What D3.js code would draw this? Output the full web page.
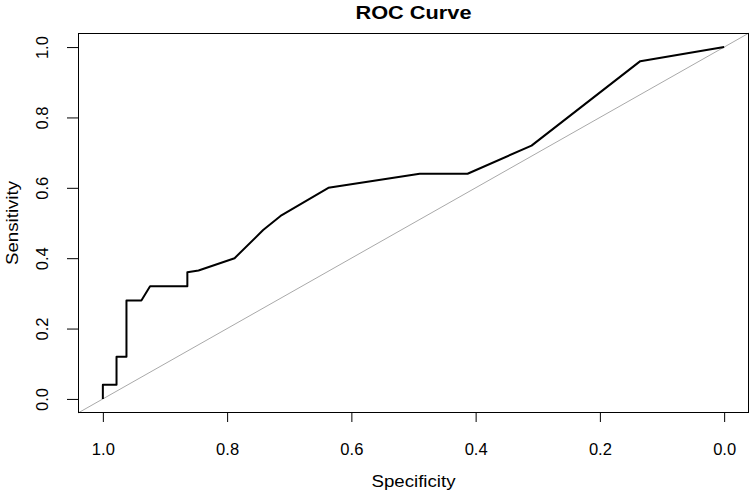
<!DOCTYPE html>
<html><head><meta charset="utf-8">
<script src="https://cdn.jsdelivr.net/npm/d3@7"></script>
<style>body{margin:0;background:#fff}svg{display:block}text{font-family:"Liberation Sans",Arial,sans-serif}</style>
</head><body>
<script>
const specificity = [1.0, 1.0, 0.978, 0.978, 0.962, 0.962, 0.938, 0.924, 0.864, 0.864, 0.846, 0.788, 0.742, 0.714, 0.637, 0.490, 0.413, 0.310, 0.135, 0.0];
const sensitivity = [0.0, 0.04, 0.04, 0.12, 0.12, 0.28, 0.28, 0.32, 0.32, 0.36, 0.365, 0.40, 0.48, 0.52, 0.60, 0.64, 0.64, 0.72, 0.96, 1.0];
const tickValues = [1.0, 0.8, 0.6, 0.4, 0.2, 0.0];
const tickLabels = ["1.0", "0.8", "0.6", "0.4", "0.2", "0.0"];

const W = 752, H = 493;
const box = {left: 78, right: 749, top: 33, bottom: 413};
const x = d3.scaleLinear().domain([1.04, -0.04]).range([box.left, box.right]);
const y = d3.scaleLinear().domain([-0.04, 1.04]).range([box.bottom, box.top]);

const svg = d3.select("body").append("svg").attr("width", W).attr("height", H);

// diagonal reference
svg.append("line")
  .attr("x1", x(1.04)).attr("y1", y(-0.04))
  .attr("x2", x(-0.04)).attr("y2", y(1.04))
  .attr("stroke", "#a9a9a9").attr("stroke-width", 1);

const pts = specificity.map((s, i) => [s, sensitivity[i]]);
svg.append("path").datum(pts)
  .attr("d", d3.line().x(d => x(d[0])).y(d => y(d[1])))
  .attr("fill", "none").attr("stroke", "#000").attr("stroke-width", 2)
  .attr("stroke-linejoin", "round");

// box
svg.append("rect").attr("x", box.left + 0.5).attr("y", box.top + 0.5)
  .attr("width", box.right - box.left - 1).attr("height", box.bottom - box.top - 1)
  .attr("fill", "none").attr("stroke", "#000").attr("stroke-width", 1);

// x axis
const xAxis = d3.axisBottom(x).tickValues(tickValues).tickFormat((d, i) => tickLabels[i]).tickSize(10).tickPadding(22);
const gx = svg.append("g").attr("transform", `translate(0,${box.bottom - 1})`).call(xAxis);
gx.select(".domain").remove();
gx.selectAll("text").attr("font-size", 16).attr("font-family", "Liberation Sans, Arial, sans-serif").attr("fill", "#000")
  .attr("textLength", 23).attr("lengthAdjust", "spacingAndGlyphs");
gx.selectAll("line").attr("stroke", "#000");

// y axis
const yAxis = d3.axisLeft(y).tickValues(tickValues).tickFormat((d, i) => tickLabels[i]).tickSize(11).tickPadding(0);
const gy = svg.append("g").attr("transform", `translate(${box.left},0)`).call(yAxis);
gy.select(".domain").remove();
gy.selectAll("line").attr("stroke", "#000");
gy.selectAll("text").attr("font-size", 16).attr("font-family", "Liberation Sans, Arial, sans-serif").attr("fill", "#000")
  .attr("x", null)
  .attr("text-anchor", "middle")
  .attr("transform", "translate(-36,0) rotate(-90)")
  .attr("dy", "0.35em")
  .attr("textLength", 23).attr("lengthAdjust", "spacingAndGlyphs");

svg.append("text").attr("x", (box.left + box.right) / 2).attr("y", 19)
  .attr("text-anchor", "middle").attr("font-weight", "bold").attr("font-size", 18)
  .attr("textLength", 116).attr("lengthAdjust", "spacingAndGlyphs").text("ROC Curve");
svg.append("text").attr("x", (box.left + box.right) / 2).attr("y", 487)
  .attr("text-anchor", "middle").attr("font-size", 16)
  .attr("textLength", 84).attr("lengthAdjust", "spacingAndGlyphs").text("Specificity");
svg.append("text").attr("transform", `translate(18,${(box.top + box.bottom) / 2}) rotate(-90)`)
  .attr("text-anchor", "middle").attr("font-size", 16)
  .attr("textLength", 84).attr("lengthAdjust", "spacingAndGlyphs").text("Sensitivity");
</script>
</body></html>
